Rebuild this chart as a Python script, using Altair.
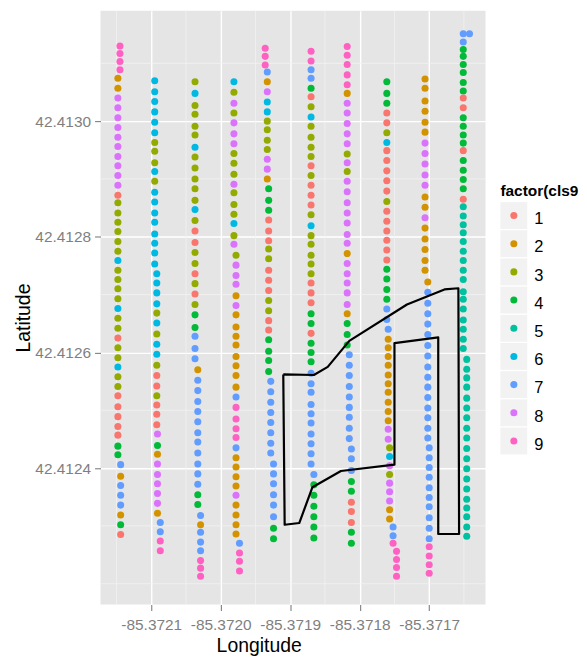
import altair as alt
import pandas as pd

FONT = "Liberation Sans"

# ---- categories / palette ----
CLASSES = ["1", "2", "3", "4", "5", "6", "7", "8", "9"]
PALETTE = ["#F8766D", "#D39200", "#93AA00", "#00BA38", "#00C19F",
           "#00B9E3", "#619CFF", "#DB72FB", "#FF61C3"]
LEGEND_TITLE = "factor(cls9"  # as visible (clipped) in the reference

# ---- axis breaks ----
X_TICKS = [-85.3721, -85.3720, -85.3719, -85.3718, -85.3717]
Y_TICKS = [42.4124, 42.4126, 42.4128, 42.4130]
X_MINOR = [-85.37215, -85.37205, -85.37195, -85.37185, -85.37175, -85.37165]
Y_MINOR = [42.4122, 42.4123, 42.4125, 42.4127, 42.4129, 42.4131]

# ---- transect 1 ----
LAT_1 = [42.413130, 42.413117, 42.413103, 42.413089, 42.413074, 42.413057, 42.413040, 42.413023, 42.413006, 42.412989,
         42.412972, 42.412956, 42.412939, 42.412923, 42.412906, 42.412889, 42.412872, 42.412859, 42.412841, 42.412825,
         42.412809, 42.412792, 42.412775, 42.412759, 42.412742, 42.412726, 42.412710, 42.412693, 42.412676, 42.412659,
         42.412642, 42.412625, 42.412608, 42.412591, 42.412575, 42.412558, 42.412541, 42.412525, 42.412506, 42.412489,
         42.412472, 42.412457, 42.412438, 42.412423, 42.412406, 42.412386, 42.412370, 42.412353, 42.412336, 42.412319,
         42.412302, 42.412285]
CLS_1 = [9, 9, 9, 9, 2, 2, 8, 8, 8, 8, 8, 8, 8, 8, 8, 8, 1, 3, 3, 3, 3, 3, 3, 6, 3, 3, 3, 3, 6, 3,
         3, 1, 3, 3, 6, 3, 3, 1, 1, 1, 1, 1, 4, 4, 7, 2, 7, 7, 7, 2, 4, 1]
LON_1 = [-85.372145] * 4 + [-85.372148] * 40 + [-85.372144] * 8

# ---- transect 2 ----
LAT_2 = [42.413070, 42.413051, 42.413034, 42.413016, 42.412998, 42.412980, 42.412963, 42.412948, 42.412928, 42.412913,
         42.412896, 42.412877, 42.412860, 42.412841, 42.412825, 42.412805, 42.412789, 42.412772, 42.412753, 42.412736,
         42.412720, 42.412703, 42.412684, 42.412668, 42.412651, 42.412632, 42.412614, 42.412597, 42.412578, 42.412560,
         42.412542, 42.412525, 42.412509, 42.412493, 42.412475, 42.412459, 42.412439, 42.412424, 42.412407, 42.412389,
         42.412373, 42.412356, 42.412339, 42.412322, 42.412306, 42.412290, 42.412274, 42.412257]
CLS_2 = [6, 6, 6, 6, 6, 6, 3, 3, 3, 6, 3, 6, 6, 6, 6, 6, 6, 6, 6, 6, 6, 6, 6, 3, 6, 3, 6, 6, 3, 1,
         1, 3, 1, 1, 1, 8, 4, 2, 8, 8, 8, 8, 8, 2, 7, 7, 9, 9]
LON_2 = [-85.372095] * 19 + [-85.372092] * 16 + [-85.372091] * 9 + [-85.372087] * 4

# ---- transect 3 ----
LAT_3 = [42.413068, 42.413048, 42.413027, 42.413012, 42.412991, 42.412976, 42.412955, 42.412938, 42.412919, 42.412900,
         42.412883, 42.412863, 42.412847, 42.412828, 42.412810, 42.412790, 42.412773, 42.412754, 42.412736, 42.412719,
         42.412701, 42.412683, 42.412665, 42.412643, 42.412628, 42.412607, 42.412589, 42.412570, 42.412552, 42.412534,
         42.412515, 42.412498, 42.412480, 42.412461, 42.412445, 42.412426, 42.412407, 42.412390, 42.412372, 42.412354,
         42.412337, 42.412318, 42.412302, 42.412289, 42.412272, 42.412257, 42.412240, 42.412227, 42.412213]
CLS_3 = [3, 6, 3, 3, 3, 3, 6, 3, 3, 3, 3, 3, 6, 3, 1, 1, 3, 3, 1, 3, 1, 3, 4, 4, 7, 7, 7, 2, 7, 7,
         7, 7, 7, 7, 7, 7, 7, 7, 7, 4, 4, 7, 2, 7, 7, 7, 9, 9, 9]
LON_3 = [-85.372037] * 27 + [-85.372033] * 14 + [-85.372029] * 8

# ---- transect 4 ----
LAT_4 = [42.413068, 42.413050, 42.413031, 42.413014, 42.412997, 42.412978, 42.412961, 42.412944, 42.412927, 42.412908,
         42.412891, 42.412876, 42.412856, 42.412839, 42.412823, 42.412802, 42.412787, 42.412768, 42.412751, 42.412733,
         42.412718, 42.412698, 42.412681, 42.412665, 42.412644, 42.412628, 42.412613, 42.412593, 42.412577, 42.412560,
         42.412540, 42.412523, 42.412505, 42.412485, 42.412468, 42.412453, 42.412435, 42.412418, 42.412402, 42.412385,
         42.412369, 42.412353, 42.412336, 42.412319, 42.412302, 42.412286, 42.412270, 42.412253, 42.412239, 42.412222]
CLS_4 = [6, 3, 8, 3, 8, 8, 8, 3, 3, 3, 8, 3, 3, 3, 6, 3, 8, 3, 8, 8, 8, 2, 8, 2, 2, 2, 2, 2, 2, 2,
         2, 7, 9, 9, 9, 9, 7, 2, 2, 2, 2, 8, 2, 2, 2, 2, 7, 9, 9, 9]
LON_4 = [-85.371981] * 17 + [-85.371978] * 29 + [-85.371973] * 4

# ---- transect 5 ----
LAT_5 = [42.413126, 42.413112, 42.413097, 42.413085, 42.413068, 42.413051, 42.413033, 42.413016, 42.413000, 42.412985,
         42.412967, 42.412951, 42.412934, 42.412917, 42.412900, 42.412883, 42.412863, 42.412846, 42.412829, 42.412810,
         42.412793, 42.412779, 42.412762, 42.412742, 42.412725, 42.412707, 42.412690, 42.412672, 42.412655, 42.412639,
         42.412622, 42.412602, 42.412586, 42.412567, 42.412550, 42.412532, 42.412514, 42.412496, 42.412479, 42.412461,
         42.412443, 42.412426, 42.412407, 42.412390, 42.412373, 42.412354, 42.412336, 42.412316, 42.412296, 42.412278]
CLS_5 = [9, 9, 9, 7, 2, 8, 6, 6, 3, 3, 3, 3, 8, 8, 2, 4, 4, 4, 1, 1, 1, 3, 3, 1, 1, 1, 3, 3, 1, 1,
         4, 4, 4, 4, 7, 7, 7, 7, 7, 7, 7, 7, 7, 7, 7, 7, 7, 7, 4, 4]
LON_5 = [-85.371936] * 3 + [-85.371933] * 12 + [-85.371931] * 19 + [-85.371928] * 8 + [-85.371924] * 8

# ---- transect 6 ----
LAT_6 = [42.413121, 42.413104, 42.413089, 42.413074, 42.413057, 42.413042, 42.413025, 42.413007, 42.412991, 42.412972,
         42.412955, 42.412939, 42.412923, 42.412906, 42.412889, 42.412872, 42.412855, 42.412838, 42.412819, 42.412802,
         42.412787, 42.412768, 42.412753, 42.412736, 42.412720, 42.412703, 42.412686, 42.412667, 42.412650, 42.412633,
         42.412616, 42.412600, 42.412584, 42.412564, 42.412546, 42.412531, 42.412510, 42.412494, 42.412478, 42.412459,
         42.412442, 42.412425, 42.412407, 42.412389, 42.412371, 42.412353, 42.412334, 42.412316, 42.412298, 42.412279]
CLS_6 = [9, 9, 7, 7, 4, 1, 3, 6, 3, 3, 3, 3, 1, 3, 1, 1, 1, 3, 6, 3, 3, 3, 3, 3, 1, 1, 1, 4, 4, 1,
         4, 4, 4, 7, 7, 7, 7, 7, 7, 7, 7, 7, 7, 7, 4, 4, 4, 4, 4, 4]
LON_6 = [-85.371870] * 43 + [-85.371866] * 7

# ---- transect 7 ----
LAT_7 = [42.413129, 42.413114, 42.413098, 42.413080, 42.413063, 42.413048, 42.413031, 42.413014, 42.412996, 42.412978,
         42.412961, 42.412943, 42.412928, 42.412913, 42.412896, 42.412878, 42.412859, 42.412841, 42.412824, 42.412804,
         42.412789, 42.412771, 42.412754, 42.412736, 42.412720, 42.412703, 42.412683, 42.412667, 42.412650, 42.412631,
         42.412613, 42.412596, 42.412578, 42.412560, 42.412541, 42.412523, 42.412505, 42.412488, 42.412469, 42.412451,
         42.412433, 42.412416, 42.412396, 42.412377, 42.412360, 42.412341, 42.412325, 42.412306, 42.412289, 42.412270]
CLS_7 = [9, 9, 9, 9, 9, 2, 8, 8, 8, 8, 8, 3, 8, 3, 8, 8, 8, 8, 8, 8, 8, 2, 8, 8, 8, 8, 8, 2, 4, 4,
         4, 7, 7, 7, 7, 7, 7, 7, 7, 7, 7, 7, 7, 4, 4, 1, 1, 1, 4, 4]
LON_7 = [-85.371818] * 31 + [-85.371815] * 9 + [-85.371812] * 10

# ---- transect 8 ----
LAT_8 = [42.413068, 42.413048, 42.413031, 42.413014, 42.412997, 42.412980, 42.412963, 42.412949, 42.412932, 42.412914,
         42.412897, 42.412879, 42.412861, 42.412844, 42.412827, 42.412810, 42.412794, 42.412777, 42.412760, 42.412744,
         42.412727, 42.412709, 42.412692, 42.412675, 42.412657, 42.412640, 42.412623, 42.412608, 42.412593, 42.412578,
         42.412561, 42.412546, 42.412531, 42.412514, 42.412498, 42.412482, 42.412467, 42.412450, 42.412435, 42.412420,
         42.412404, 42.412389, 42.412374, 42.412359, 42.412343, 42.412328, 42.412312, 42.412298, 42.412283, 42.412270,
         42.412256, 42.412242, 42.412228, 42.412213]
CLS_8 = [4, 4, 4, 1, 1, 3, 6, 1, 1, 1, 1, 1, 3, 1, 1, 1, 1, 1, 1, 4, 4, 4, 4, 7, 7, 7, 2, 2, 2, 2,
         2, 2, 2, 2, 2, 2, 8, 8, 3, 6, 8, 3, 8, 8, 8, 2, 2, 7, 7, 9, 9, 9, 9, 9]
LON_8 = [-85.371761] * 25 + [-85.371759] * 13 + [-85.371757] * 9 + [-85.371752] * 3 + [-85.371747] * 4

# ---- transect 9 ----
LAT_9 = [42.413073, 42.413057, 42.413035, 42.413017, 42.412998, 42.412981, 42.412962, 42.412944, 42.412926, 42.412907,
         42.412889, 42.412869, 42.412851, 42.412833, 42.412815, 42.412796, 42.412778, 42.412759, 42.412742, 42.412722,
         42.412704, 42.412685, 42.412667, 42.412649, 42.412631, 42.412612, 42.412594, 42.412575, 42.412557, 42.412540,
         42.412522, 42.412504, 42.412487, 42.412469, 42.412452, 42.412435, 42.412418, 42.412401, 42.412384, 42.412366,
         42.412349, 42.412333, 42.412314, 42.412296, 42.412278, 42.412264, 42.412248, 42.412233, 42.412218]
CLS_9 = [2, 2, 2, 2, 2, 2, 8, 8, 8, 8, 8, 2, 2, 8, 2, 2, 2, 2, 2, 2, 7, 7, 7, 7, 7, 7, 7, 7, 7, 7,
         7, 7, 7, 7, 7, 7, 7, 7, 7, 7, 7, 7, 7, 7, 7, 9, 9, 9, 9]
LON_9 = [-85.371706] * 19 + [-85.371702] * 16 + [-85.371700] * 14

# ---- transect 10 ----
LAT_10 = [42.413151, 42.413151, 42.413137, 42.413124, 42.413112, 42.413098, 42.413084, 42.413067, 42.413052, 42.413040,
          42.413023, 42.413006, 42.412991, 42.412976, 42.412962, 42.412949, 42.412932, 42.412915, 42.412899, 42.412883,
          42.412865, 42.412852, 42.412836, 42.412821, 42.412807, 42.412792, 42.412775, 42.412759, 42.412742, 42.412726,
          42.412705, 42.412692, 42.412675, 42.412656, 42.412640, 42.412623, 42.412607, 42.412588, 42.412571, 42.412556,
          42.412540, 42.412521, 42.412504, 42.412487, 42.412469, 42.412452, 42.412434, 42.412416, 42.412399, 42.412381,
          42.412364, 42.412346, 42.412331, 42.412316, 42.412298, 42.412282]
CLS_10 = [7, 7, 7, 4, 4, 4, 4, 4, 4, 1, 1, 4, 4, 4, 4, 1, 4, 4, 4, 4, 1, 5, 5, 5, 5, 5, 5, 5, 5, 5,
          5, 5, 5, 5, 5, 5, 5, 5, 5, 5, 5, 5, 5, 5, 5, 5, 5, 5, 5, 5, 5, 5, 5, 5, 5, 5]
LON_10 = [-85.371651, -85.371642] + [-85.371651] * 35 + [-85.371646] * 19

# ---- boundary polygon ----
POLY_LON = [-85.371910, -85.371866, -85.371846, -85.371815, -85.371732, -85.371678, -85.371658, -85.371657,
            -85.371687, -85.371687, -85.371750, -85.371750, -85.371827, -85.371868, -85.371887, -85.371908, -85.371910]
POLY_LAT = [42.412562, 42.412561, 42.412575, 42.412620, 42.412683, 42.412709, 42.412711, 42.412286,
            42.412286, 42.412626, 42.412616, 42.412406, 42.412395, 42.412367, 42.412305, 42.412302, 42.412562]

TRANSECTS = [(LON_1, LAT_1, CLS_1), (LON_2, LAT_2, CLS_2), (LON_3, LAT_3, CLS_3), (LON_4, LAT_4, CLS_4),
             (LON_5, LAT_5, CLS_5), (LON_6, LAT_6, CLS_6), (LON_7, LAT_7, CLS_7), (LON_8, LAT_8, CLS_8),
             (LON_9, LAT_9, CLS_9), (LON_10, LAT_10, CLS_10)]

rows = []
for lons, lats, cls in TRANSECTS:
    assert len(lons) == len(lats) == len(cls), (len(lons), len(lats), len(cls))
    for lo, la, c in zip(lons, lats, cls):
        rows.append({"lon": lo, "lat": la, "cls": str(c)})
df = pd.DataFrame(rows)

poly_df = pd.DataFrame({"lon": POLY_LON, "lat": POLY_LAT, "k": list(range(len(POLY_LON)))})

x_scale = alt.Scale(domain=[-85.372173, -85.371619], nice=False, zero=False)
y_scale = alt.Scale(domain=[42.412164, 42.413191], nice=False, zero=False)
color_scale = alt.Scale(domain=CLASSES, range=PALETTE)

x_axis = alt.Axis(values=X_TICKS, labelExpr="'-' + format(abs(datum.value), '.4f')", title="Longitude",
                  grid=True, gridColor="#FFFFFF", gridWidth=1.4, domain=False,
                  tickColor="#7F7F7F", tickSize=6, tickWidth=1.1,
                  labelColor="#7F7F7F", labelFont=FONT, labelFontSize=15.5, labelPadding=7,
                  labelFlush=False, labelOverlap=False,
                  titleFont=FONT, titleFontSize=19.5, titleFontWeight="normal", titleColor="#000000",
                  titleX=159, titleY=47, titleAlign="center", titleBaseline="alphabetic")
y_axis = alt.Axis(values=Y_TICKS, labelExpr="format(datum.value, '.4f')", title="Latitude",
                  grid=True, gridColor="#FFFFFF", gridWidth=1.4, domain=False,
                  tickColor="#7F7F7F", tickSize=6, tickWidth=1.1,
                  labelColor="#7F7F7F", labelFont=FONT, labelFontSize=15.5, labelPadding=4,
                  labelFlush=False, labelOverlap=False,
                  titleFont=FONT, titleFontSize=19.5, titleFontWeight="normal", titleColor="#000000",
                  titleX=-71.7, titleY=308.5, titleAngle=270, titleAlign="center", titleBaseline="alphabetic")

minor_x = alt.Chart(pd.DataFrame({"lon": X_MINOR})).mark_rule(color="#F2F2F2", strokeWidth=0.8).encode(
    x=alt.X("lon:Q", scale=x_scale, axis=x_axis))
minor_y = alt.Chart(pd.DataFrame({"lat": Y_MINOR})).mark_rule(color="#F2F2F2", strokeWidth=0.8).encode(
    y=alt.Y("lat:Q", scale=y_scale, axis=y_axis))

points = alt.Chart(df).mark_circle(size=50, opacity=1).encode(
    x=alt.X("lon:Q", scale=x_scale, axis=x_axis),
    y=alt.Y("lat:Q", scale=y_scale, axis=y_axis),
    color=alt.Color("cls:N", scale=color_scale, legend=None),
)

poly = alt.Chart(poly_df).mark_line(color="#000000", strokeWidth=2.2, strokeJoin="round").encode(
    x=alt.X("lon:Q", scale=x_scale, axis=x_axis),
    y=alt.Y("lat:Q", scale=y_scale, axis=y_axis),
    order=alt.Order("k:Q"),
)

main = alt.layer(minor_x, minor_y, points, poly).properties(
    width=387, height=597, view=alt.ViewBackground(fill="#E5E5E5", strokeWidth=0))

# ---- ggplot-style legend ----
leg_df = pd.DataFrame({"cls": CLASSES, "k": [int(c) for c in CLASSES]})
leg_y = alt.Y("k:Q", scale=alt.Scale(domain=[-6.268, 14.805], reverse=True, nice=False, zero=False), axis=None)

keys = alt.Chart(leg_df).mark_square(size=729, color="#F2F2F2", opacity=1).encode(x=alt.value(13.5), y=leg_y)
dots = alt.Chart(leg_df).mark_circle(size=50, opacity=1).encode(
    x=alt.value(13.5), y=leg_y, color=alt.Color("cls:N", scale=color_scale, legend=None))
labels = alt.Chart(leg_df).mark_text(align="left", baseline="middle", font=FONT, fontSize=16.5,
                                     color="#000000", dy=3.8).encode(x=alt.value(34), y=leg_y, text="cls:N")
title = alt.Chart(pd.DataFrame({"t": [LEGEND_TITLE]})).mark_text(
    align="left", baseline="alphabetic", font=FONT, fontSize=15.5, fontWeight="bold", color="#000000"
).encode(x=alt.value(0), y=alt.value(186.5), text="t:N")

legend = alt.layer(keys, dots, labels, title).properties(
    width=70, height=597, view=alt.ViewBackground(fill="#FFFFFF", strokeWidth=0))

chart = alt.hconcat(main, legend, spacing=14).properties(
    padding={"left": 5, "top": 0, "right": 0, "bottom": 0}
).configure_view(strokeWidth=0)

chart.save("out.html", embed_options={"renderer": "svg", "actions": False})
